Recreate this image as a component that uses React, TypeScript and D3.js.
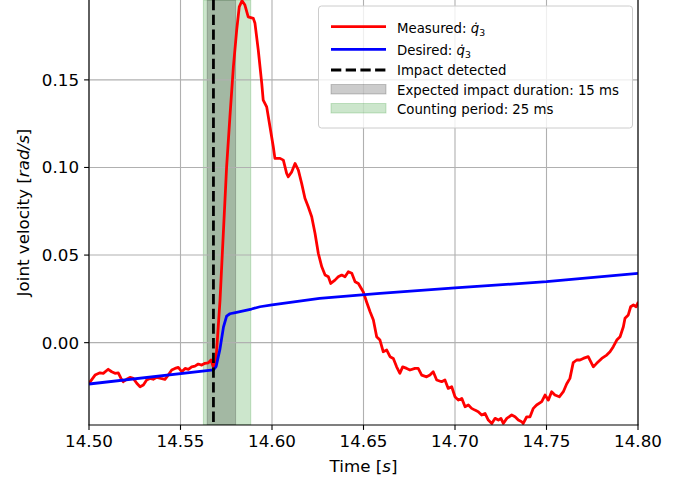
import React from "react";
import * as d3 from "d3";

const W = 689;
const H = 480;

// Measured joint velocity (time [s], value [rad/s])
const T_MEAS = [
  14.5, 14.5033, 14.506, 14.5078, 14.5105, 14.5124, 14.5142, 14.516, 14.5175, 14.5187,
  14.5206, 14.5224, 14.5242, 14.5261, 14.5279, 14.5297, 14.5315, 14.5333, 14.5351, 14.537,
  14.5393, 14.5415, 14.5433, 14.5452, 14.547, 14.5488, 14.5507, 14.5525, 14.5543, 14.5561,
  14.5579, 14.5597, 14.5616, 14.5634, 14.5652, 14.5667, 14.5679, 14.5694, 14.5716, 14.5734,
  14.5752, 14.577, 14.5789, 14.5807, 14.5821, 14.5836, 14.5852, 14.587, 14.5898, 14.5907,
  14.5925, 14.5944, 14.5952, 14.5971, 14.5989, 14.6007, 14.6016, 14.6044, 14.6062, 14.608,
  14.6089, 14.6108, 14.6126, 14.6144, 14.6162, 14.618, 14.6198, 14.6217, 14.6235, 14.6253,
  14.6272, 14.629, 14.6308, 14.6321, 14.6344, 14.6362, 14.6381, 14.6399, 14.6417, 14.6436,
  14.6454, 14.6472, 14.6499, 14.6517, 14.6536, 14.6554, 14.6572, 14.659, 14.6608, 14.6627,
  14.6645, 14.6663, 14.6681, 14.6699, 14.6714, 14.6736, 14.6754, 14.6781, 14.6799, 14.6818,
  14.6845, 14.6863, 14.6881, 14.69, 14.6927, 14.6945, 14.6963, 14.6982, 14.7, 14.7018,
  14.7037, 14.7055, 14.7073, 14.7091, 14.7109, 14.7127, 14.7146, 14.7164, 14.7182, 14.7201,
  14.7219, 14.7237, 14.7251, 14.7264, 14.7283, 14.731, 14.7328, 14.7346, 14.7364, 14.7373,
  14.7392, 14.741, 14.7428, 14.7446, 14.7474, 14.7492, 14.751, 14.7528, 14.7546, 14.757,
  14.7592, 14.761, 14.7628, 14.7646, 14.7665, 14.7683, 14.7701, 14.7728, 14.7756, 14.7774,
  14.7802, 14.7829, 14.7847, 14.7865, 14.7884, 14.7902, 14.792, 14.7929, 14.7947, 14.796,
  14.7975, 14.799, 14.8002,
];
const V_MEAS = [
  -0.0232, -0.0185, -0.0172, -0.0175, -0.0152, -0.0166, -0.0175, -0.0172, -0.0204, -0.0223,
  -0.0209, -0.0198, -0.0204, -0.0232, -0.0252, -0.0242, -0.0213, -0.0204, -0.0209, -0.0198,
  -0.0204, -0.0209, -0.0185, -0.0156, -0.0147, -0.0141, -0.0166, -0.0147, -0.0152, -0.0138,
  -0.0134, -0.0122, -0.0128, -0.0118, -0.0115, -0.0099, -0.0138, -0.0099, 0.0243, 0.0624,
  0.1004, 0.1289, 0.1575, 0.1784, 0.1917, 0.1952, 0.1927, 0.186, 0.1851, 0.1823,
  0.167, 0.148, 0.1385, 0.1346, 0.1232, 0.1118, 0.1052, 0.1052, 0.1042, 0.0966,
  0.0947, 0.0975, 0.1023, 0.0985, 0.0909, 0.0824, 0.0776, 0.0719, 0.0624, 0.051,
  0.0433, 0.0386, 0.0376, 0.0338, 0.0357, 0.0376, 0.0386, 0.0376, 0.0405, 0.0396,
  0.0348, 0.0338, 0.0289, 0.0232, 0.0176, 0.0129, 0.0034, 0.0015, -0.0052, -0.0042,
  -0.008, -0.009, -0.0138, -0.0175, -0.0138, -0.0147, -0.0156, -0.0147, -0.0147, -0.0185,
  -0.0195, -0.0185, -0.0166, -0.0213, -0.0223, -0.0213, -0.0261, -0.0252, -0.0309, -0.0328,
  -0.0318, -0.0366, -0.0356, -0.0375, -0.0385, -0.0394, -0.0413, -0.0404, -0.0442, -0.0461,
  -0.0432, -0.0442, -0.0432, -0.0461, -0.0432, -0.0413, -0.0423, -0.0442, -0.0451, -0.0461,
  -0.0423, -0.0423, -0.0375, -0.0356, -0.0337, -0.0299, -0.0328, -0.028, -0.0299, -0.0309,
  -0.028, -0.0236, -0.0204, -0.0114, -0.0099, -0.0099, -0.009, -0.008, -0.0138, -0.0118,
  -0.009, -0.0071, -0.0052, -0.0023, 0.0015, 0.0034, 0.0091, 0.0139, 0.0158, 0.0205,
  0.0215, 0.0205, 0.0233,
];

// Desired joint velocity
const T_DES = [14.5, 14.568, 14.5695, 14.5715, 14.5735, 14.5752, 14.577, 14.58, 14.5888, 14.5934, 14.6, 14.626, 14.659, 14.7, 14.75, 14.8];
const V_DES = [-0.0236, -0.0155, -0.0135, -0.004, 0.009, 0.0152, 0.0165, 0.0172, 0.0192, 0.0205, 0.0216, 0.0253, 0.0281, 0.0313, 0.0348, 0.0395];

const IMPACT_T = 14.568;
const EXPECTED_SPAN = [14.5646, 14.5801];
const COUNTING_SPAN = [14.5625, 14.5884];

const X_TICKS = [14.5, 14.55, 14.6, 14.65, 14.7, 14.75, 14.8];
const Y_TICKS = [0.0, 0.05, 0.1, 0.15];
const X_DOMAIN = [14.5, 14.8];
const Y_DOMAIN = [-0.047, 0.1956];

const FONT = "DejaVu Sans, sans-serif";

export default function App() {
  const left = 89, right = 638, top = 0, bottom = 425;
  const x = d3.scaleLinear().domain(X_DOMAIN).range([left, right]);
  const y = d3.scaleLinear().domain(Y_DOMAIN).range([bottom, top]);

  const meas = T_MEAS.map((t, i) => [t, V_MEAS[i]] as [number, number]);
  const des = T_DES.map((t, i) => [t, V_DES[i]] as [number, number]);
  const line = d3.line<[number, number]>().x((d) => x(d[0])).y((d) => y(d[1]));

  const lw = 2.78;
  const tickFs = 16.7;
  const legFs = 13.3;

  const legX = 318.5, legY = 6, legW = 314, legH = 122;
  const hx0 = 331, hx1 = 386, tx = 397;

  return (
    <svg width={W} height={H} style={{ position: "absolute", left: 0, top: 0 }} fontFamily={FONT}>
      <rect x={0} y={0} width={W} height={H} fill="#ffffff" />
      <defs>
        <clipPath id="plot">
          <rect x={left} y={top} width={right - left} height={bottom - top} />
        </clipPath>
      </defs>

      {/* spans */}
      <g clipPath="url(#plot)">
        <rect x={x(COUNTING_SPAN[0])} y={top} width={x(COUNTING_SPAN[1]) - x(COUNTING_SPAN[0])} height={bottom - top}
          fill="green" fillOpacity={0.2} stroke="green" strokeOpacity={0.2} strokeWidth={1} />
        <rect x={x(EXPECTED_SPAN[0])} y={top} width={x(EXPECTED_SPAN[1]) - x(EXPECTED_SPAN[0])} height={bottom - top}
          fill="black" fillOpacity={0.2} stroke="black" strokeOpacity={0.2} strokeWidth={1} />
      </g>

      {/* grid */}
      <g stroke="#b0b0b0" strokeWidth={1.1}>
        {X_TICKS.map((t) => (
          <line key={"gx" + t} x1={x(t)} x2={x(t)} y1={top} y2={bottom} />
        ))}
        {Y_TICKS.map((v) => (
          <line key={"gy" + v} x1={left} x2={right} y1={y(v)} y2={y(v)} />
        ))}
      </g>

      {/* lines */}
      <g clipPath="url(#plot)" fill="none" strokeLinejoin="round" strokeLinecap="butt">
        <path d={line(meas) || ""} stroke="red" strokeWidth={lw} />
        <path d={line(des) || ""} stroke="blue" strokeWidth={lw} />
        <line x1={x(IMPACT_T)} x2={x(IMPACT_T)} y1={top} y2={bottom} stroke="black" strokeWidth={lw} strokeDasharray="10.3 4.4" />
      </g>

      {/* spines */}
      <g stroke="#000" strokeWidth={1.1} fill="none">
        <line x1={left} x2={left} y1={top - 2} y2={bottom} />
        <line x1={right} x2={right} y1={top - 2} y2={bottom} />
        <line x1={left - 0.5} x2={right + 0.5} y1={bottom} y2={bottom} />
      </g>

      {/* x ticks */}
      <g>
        {X_TICKS.map((t) => (
          <g key={"xt" + t}>
            <line x1={x(t)} x2={x(t)} y1={bottom} y2={bottom + 4.9} stroke="#000" strokeWidth={1.1} />
            <text x={x(t)} y={bottom + 22} textAnchor="middle" fontSize={tickFs} fill="#000">
              {d3.format(".2f")(t)}
            </text>
          </g>
        ))}
      </g>
      {/* y ticks */}
      <g>
        {Y_TICKS.map((v) => (
          <g key={"yt" + v}>
            <line x1={left - 4.9} x2={left} y1={y(v)} y2={y(v)} stroke="#000" strokeWidth={1.1} />
            <text x={left - 10} y={y(v)} dy="0.36em" textAnchor="end" fontSize={tickFs} fill="#000">
              {d3.format(".2f")(v)}
            </text>
          </g>
        ))}
      </g>

      {/* axis labels */}
      <text x={(left + right) / 2} y={472} textAnchor="middle" fontSize={tickFs} fill="#000">
        Time [<tspan fontStyle="italic">s</tspan>]
      </text>
      <text transform={`translate(29, ${(top + bottom) / 2}) rotate(-90)`} textAnchor="middle" fontSize={tickFs} fill="#000">
        Joint velocity [<tspan fontStyle="italic">rad/s</tspan>]
      </text>

      {/* legend */}
      <g>
        <rect x={legX} y={legY} width={legW} height={legH} rx={3} ry={3} fill="#ffffff" fillOpacity={0.8} stroke="#cccccc" strokeWidth={1} />
        <line x1={hx0} x2={hx1} y1={26.7} y2={26.7} stroke="red" strokeWidth={lw} />
        <text x={tx} y={32.5} fontSize={legFs} fill="#000">
          Measured: <tspan fontStyle="italic">q{"\u0307"}</tspan>
          <tspan fontSize={legFs * 0.7} dy={3}>3</tspan>
        </text>
        <line x1={hx0} x2={hx1} y1={49.3} y2={49.3} stroke="blue" strokeWidth={lw} />
        <text x={tx} y={55} fontSize={legFs} fill="#000">
          Desired: <tspan fontStyle="italic">q{"\u0307"}</tspan>
          <tspan fontSize={legFs * 0.7} dy={3}>3</tspan>
        </text>
        <line x1={hx0} x2={hx1} y1={70} y2={70} stroke="black" strokeWidth={lw} strokeDasharray="10.3 4.4" />
        <text x={tx} y={75} fontSize={legFs} fill="#000">Impact detected</text>
        <rect x={hx0} y={84.5} width={hx1 - hx0} height={9.5} fill="black" fillOpacity={0.2} stroke="black" strokeOpacity={0.2} strokeWidth={1} />
        <text x={tx} y={94.5} fontSize={legFs} fill="#000">Expected impact duration: 15 ms</text>
        <rect x={hx0} y={103.5} width={hx1 - hx0} height={9.5} fill="green" fillOpacity={0.2} stroke="green" strokeOpacity={0.2} strokeWidth={1} />
        <text x={tx} y={113.5} fontSize={legFs} fill="#000">Counting period: 25 ms</text>
      </g>
    </svg>
  );
}
